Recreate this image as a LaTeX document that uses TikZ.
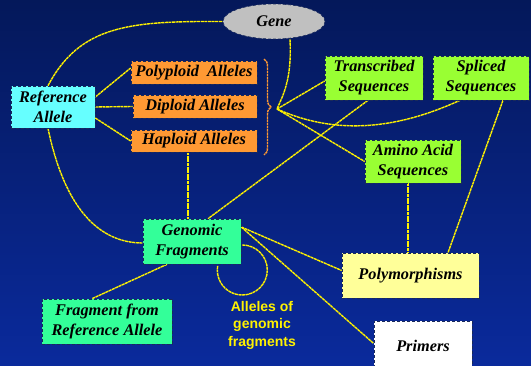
\documentclass[tikz,border=0pt]{standalone}
\usepackage{fontspec}
\setmainfont{Liberation Serif}
\newfontfamily\labfont{Liberation Sans}
\usetikzlibrary{shapes.geometric,decorations.pathreplacing,calc}
\pgfdeclarelayer{back}
\pgfdeclarelayer{bg}
\pgfsetlayers{back,bg,main}
\definecolor{bgtop}{HTML}{04185A}
\definecolor{bgbot}{HTML}{0A2A9C}
\definecolor{cyanbox}{HTML}{66FFFF}
\definecolor{orangebox}{HTML}{FF9933}
\definecolor{limebox}{HTML}{99FF33}
\definecolor{mintbox}{HTML}{33FF99}
\definecolor{paleyel}{HTML}{FFFF99}
\definecolor{bordercol}{HTML}{1A2A5A}
\definecolor{grayell}{HTML}{C0C0C0}
\tikzset{
  box/.style={draw=bordercol, densely dashed, line width=0.6pt, inner sep=0pt,
    font=\fontsize{16.3}{20}\selectfont\bfseries\itshape, align=center, text=black},
  conn/.style={draw=yellow, line width=1.4pt, dash pattern=on 3pt off 0.6pt},
  bracestyle/.style={draw=orangebox, line width=1.4pt, dash pattern=on 2.5pt off 0.7pt,
    decorate, decoration={brace, amplitude=7pt}},
}
\begin{document}
\begin{tikzpicture}[x=1pt,y=1pt]
\begin{pgfonlayer}{back}
\shade[top color=bgtop, bottom color=bgbot] (0,0) rectangle (531,-366);
\end{pgfonlayer}
\useasboundingbox (0,0) rectangle (531,-366);
\clip (0,0) rectangle (531,-366);
% nodes
\node[box, ellipse, fill=grayell, minimum width=102pt, minimum height=35pt] (gene) at (274,-21.5) {Gene};
\node[box, fill=cyanbox, minimum width=84pt, minimum height=42pt] (ref) at (53,-107) {Reference\\Allele};
\node[box, fill=orangebox, minimum width=126pt, minimum height=23pt] (poly) at (194,-72.5) {Polyploid\ \ Alleles};
\node[box, fill=orangebox, minimum width=124pt, minimum height=23pt] (dip) at (195,-106.5) {Diploid Alleles};
\node[box, fill=orangebox, minimum width=126pt, minimum height=22pt] (hap) at (194,-141) {Haploid Alleles};
\node[box, fill=limebox, minimum width=98pt, minimum height=44pt] (trans) at (374,-78) {Transcribed\\Sequences};
\node[box, fill=limebox, minimum width=96pt, minimum height=44pt] (spl) at (481,-78) {Spliced\\Sequences};
\node[box, fill=limebox, minimum width=96pt, minimum height=43pt] (amino) at (413,-161.5) {Amino Acid\\Sequences};
\node[box, fill=mintbox, minimum width=98pt, minimum height=45pt] (gf) at (192,-241.5) {Genomic\\Fragments};
\node[box, fill=mintbox, minimum width=130pt, minimum height=45pt] (frag) at (107,-321.5) {Fragment from\\Reference Allele};
\node[box, fill=paleyel, minimum width=137pt, minimum height=45pt] (pm) at (410.5,-275.5) {Polymorphisms};
\node[box, fill=white, minimum width=98pt, minimum height=50pt] (prim) at (423,-346) {Primers};
\node[font=\labfont\fontsize{14}{17.5}\selectfont\bfseries, text=yellow, align=center] (lab) at (262,-325) {Alleles of\\genomic\\fragments};
\coordinate (tip) at (277,-109);
% brace and connectors
\begin{pgfonlayer}{bg}
\draw[bracestyle] (264,-59) -- (264,-155);
\draw[conn] ([xshift=-5pt]ref.north) .. controls (80,-25) and (130,-21) .. (gene.west);
\draw[conn] ([yshift=10pt]ref.east) -- ([yshift=4.5pt]poly.west);
\draw[conn] (ref.east) -- (dip.west);
\draw[conn] ([yshift=-11pt]ref.east) -- (hap.west);
\draw[conn] ([xshift=-5pt]ref.south) .. controls (65,-210) and (100,-243) .. ([yshift=-1.5pt]gf.west);
\draw[conn] ([xshift=-6pt]hap.south) -- ([xshift=-6pt]hap.south |- gf.north);
\draw[conn] ([xshift=16pt]gene.south) .. controls (292,-80) and (283,-95) .. (tip);
\draw[conn] (tip) -- ([yshift=-3pt]trans.west);
\draw[conn] (tip) .. controls (335,-135) and (395,-130) .. ([xshift=-21pt]spl.south);
\draw[conn] (tip) -- (amino.west);
\draw[conn] ([xshift=-6pt]trans.south) -- ([xshift=16pt]gf.north);
\draw[conn] ([xshift=-5pt]amino.south) -- ([xshift=-5pt]amino.south |- pm.north);
\draw[conn] ([xshift=22pt]spl.south) -- ([xshift=37.5pt]pm.north);
\draw[conn] ([yshift=14.5pt]gf.east) -- ([yshift=5pt]pm.west);
\draw[conn] ([yshift=14.5pt]gf.east) -- ([yshift=2.5pt]prim.west);
\draw[conn] ([xshift=-25pt]gf.south) -- ([xshift=-15pt]frag.north);
\draw[conn] ([xshift=1pt,yshift=-3.5pt]gf.east) arc[start angle=90, end angle=-190, radius=25pt];
\end{pgfonlayer}
\end{tikzpicture}
\end{document}
